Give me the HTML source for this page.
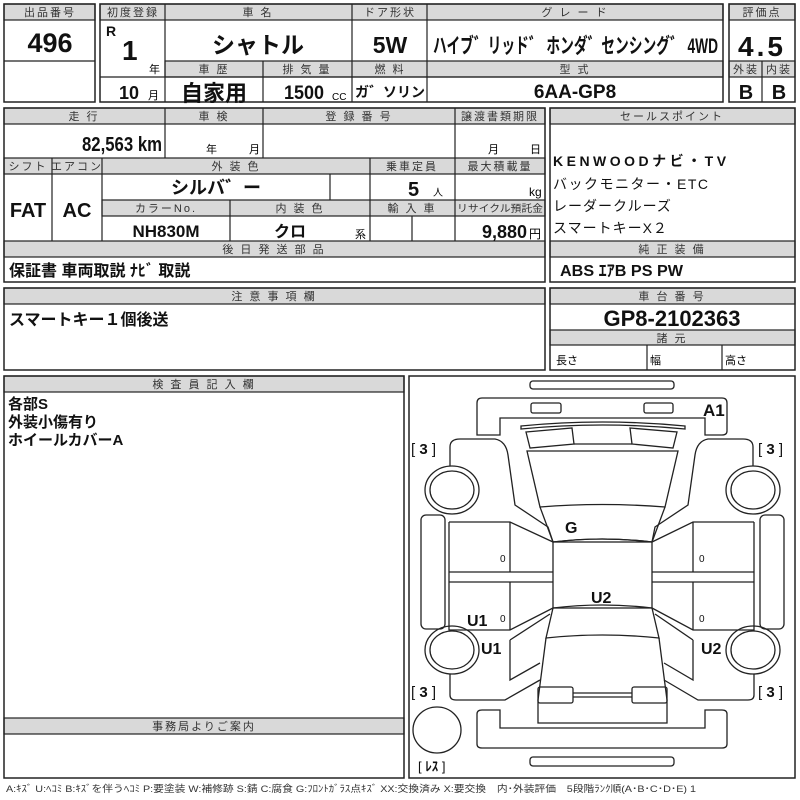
<!DOCTYPE html>
<html><head><meta charset="utf-8"><style>
html,body{margin:0;padding:0;background:#fff;}
svg{display:block;font-family:"Liberation Sans","Noto Sans CJK JP",sans-serif;}
.h{fill:#d9d9d9;stroke:#222;stroke-width:1.2}
.b{fill:none;stroke:#222;stroke-width:1.5}
.l{stroke:#222;stroke-width:1.2}
.ht{font-size:11px;fill:#333;text-anchor:middle;letter-spacing:2px}
.v{font-weight:bold;fill:#111}
.c path,.c rect,.c ellipse,.c line,.c polyline,.c polygon{fill:none;stroke:#222;stroke-width:1.3}
</style></head><body>
<svg width="800" height="800" viewBox="0 0 800 800">
<rect class="h" x="4" y="4" width="91" height="16"/>
<rect class="b" x="4" y="4" width="91" height="98"/>
<line class="l" x1="4" y1="61" x2="95" y2="61"/>
<text class="ht" x="50" y="16">出品番号</text>
<text class="v" x="50" y="52" font-size="27" text-anchor="middle">496</text>
<rect class="h" x="100" y="4" width="623" height="16"/>
<rect class="h" x="165" y="61" width="558" height="16"/>
<rect class="b" x="100" y="4" width="623" height="98"/>
<line class="l" x1="165" y1="4" x2="165" y2="102"/>
<line class="l" x1="352" y1="4" x2="352" y2="102"/>
<line class="l" x1="427" y1="4" x2="427" y2="102"/>
<line class="l" x1="263" y1="61" x2="263" y2="102"/>
<line class="l" x1="100" y1="77" x2="723" y2="77"/>
<text class="ht" x="133" y="16" letter-spacing="0">初度登録</text>
<text class="ht" x="258" y="16">車 名</text>
<text class="ht" x="390" y="16">ドア形状</text>
<text class="ht" x="575" y="16">グ レ ー ド</text>
<text class="ht" x="214" y="73">車 歴</text>
<text class="ht" x="307" y="73">排 気 量</text>
<text class="ht" x="390" y="73">燃 料</text>
<text class="ht" x="575" y="73">型 式</text>
<text class="v" x="106" y="36" font-size="14">R</text>
<text class="v" x="122" y="60" font-size="28">1</text>
<text x="149" y="73" font-size="11">年</text>
<text class="v" x="119" y="99" font-size="18">10</text>
<text x="148" y="99" font-size="11">月</text>
<text class="v" x="258" y="53" font-size="23" text-anchor="middle">シャトル</text>
<text class="v" x="390" y="53" font-size="23" text-anchor="middle">5W</text>
<text class="v" x="433" y="53" font-size="21" textLength="285" lengthAdjust="spacingAndGlyphs">ハイブ゛リッド゛ ホンダ゛センシング゛ 4WD</text>
<text class="v" x="214" y="101" font-size="22" text-anchor="middle">自家用</text>
<text class="v" x="284" y="99" font-size="19" textLength="40" lengthAdjust="spacingAndGlyphs">1500</text>
<text x="332" y="100" font-size="10">CC</text>
<text class="v" x="390" y="97" font-size="14" text-anchor="middle">ガ゛ソリン</text>
<text class="v" x="575" y="98" font-size="19" text-anchor="middle">6AA-GP8</text>
<rect class="h" x="729" y="4" width="66" height="16"/>
<rect class="h" x="729" y="61" width="66" height="16"/>
<rect class="b" x="729" y="4" width="66" height="98"/>
<line class="l" x1="762" y1="61" x2="762" y2="102"/>
<text class="ht" x="762" y="16" letter-spacing="0">評価点</text>
<text class="ht" x="746" y="73" letter-spacing="0">外装</text>
<text class="ht" x="779" y="73" letter-spacing="0">内装</text>
<text class="v" x="762" y="56" font-size="28" text-anchor="middle" letter-spacing="3">4.5</text>
<text class="v" x="746" y="99" font-size="20" text-anchor="middle">B</text>
<text class="v" x="779" y="99" font-size="20" text-anchor="middle">B</text>

<rect class="h" x="4" y="108" width="541" height="16"/>
<rect class="h" x="4" y="158" width="541" height="16"/>
<rect class="h" x="102" y="200" width="443" height="16"/>
<rect class="h" x="4" y="241" width="541" height="16"/>
<rect class="b" x="4" y="108" width="541" height="174"/>
<line class="l" x1="165" y1="108" x2="165" y2="158"/>
<line class="l" x1="263" y1="108" x2="263" y2="158"/>
<line class="l" x1="455" y1="108" x2="455" y2="241"/>
<line class="l" x1="52" y1="158" x2="52" y2="241"/>
<line class="l" x1="102" y1="158" x2="102" y2="241"/>
<line class="l" x1="370" y1="158" x2="370" y2="241"/>
<line class="l" x1="330" y1="174" x2="330" y2="200"/>
<line class="l" x1="230" y1="200" x2="230" y2="241"/>
<line class="l" x1="412" y1="216" x2="412" y2="241"/>
<text class="ht" x="84" y="120">走 行</text>
<text class="ht" x="214" y="120">車 検</text>
<text class="ht" x="359" y="120">登 録 番 号</text>
<text class="ht" x="500" y="120" letter-spacing="0">譲渡書類期限</text>
<text class="ht" x="28" y="170" letter-spacing="0">シフト</text>
<text class="ht" x="77" y="170" letter-spacing="0">エアコン</text>
<text class="ht" x="236" y="170">外 装 色</text>
<text class="ht" x="412" y="170" letter-spacing="0">乗車定員</text>
<text class="ht" x="500" y="170" letter-spacing="0">最大積載量</text>
<text class="ht" x="166" y="212" letter-spacing="4">カラーNo.</text>
<text class="ht" x="300" y="212">内 装 色</text>
<text class="ht" x="412" y="212">輸 入 車</text>
<text x="457" y="212" font-size="10" fill="#333" letter-spacing="0" textLength="86" lengthAdjust="spacingAndGlyphs">リサイクル預託金</text>
<text class="ht" x="274" y="253">後 日 発 送 部 品</text>
<text class="v" x="82" y="151" font-size="20" textLength="80" lengthAdjust="spacingAndGlyphs">82,563 km</text>
<text x="206" y="153" font-size="11">年</text><text x="249" y="153" font-size="11">月</text>
<text x="488" y="153" font-size="11">月</text><text x="530" y="153" font-size="11">日</text>
<text class="v" x="216" y="194" font-size="18" text-anchor="middle">シルバ゛ー</text>
<text class="v" x="408" y="196" font-size="20">5</text><text x="433" y="196" font-size="10">人</text>
<text x="529" y="196" font-size="12">kg</text>
<text class="v" x="28" y="217" font-size="20" text-anchor="middle">FAT</text>
<text class="v" x="77" y="217" font-size="20" text-anchor="middle">AC</text>
<text class="v" x="166" y="237" font-size="17" text-anchor="middle">NH830M</text>
<text class="v" x="290" y="237" font-size="16" text-anchor="middle">クロ</text>
<text x="355" y="238" font-size="11">系</text>
<text class="v" x="482" y="238" font-size="18">9,880</text><text x="529" y="238" font-size="12">円</text>
<text class="v" x="9" y="276" font-size="16">保証書 車両取説 ﾅﾋﾞ 取説</text>

<rect class="h" x="550" y="108" width="245" height="16"/>
<rect class="h" x="550" y="241" width="245" height="16"/>
<rect class="b" x="550" y="108" width="245" height="174"/>
<text class="ht" x="672" y="120" letter-spacing="6">セールスポイント</text>
<text class="ht" x="672" y="253">純 正 装 備</text>
<text class="v" x="553" y="166" font-size="14" letter-spacing="3.5" font-weight="normal">KENWOODナビ・TV</text>
<text x="553" y="189" font-size="14" letter-spacing="1.5" fill="#111">バックモニター・ETC</text>
<text x="553" y="211" font-size="14" letter-spacing="1" fill="#111">レーダークルーズ</text>
<text x="553" y="233" font-size="14" letter-spacing="1" fill="#111">スマートキーX２</text>
<text class="v" x="560" y="276" font-size="16" textLength="123" lengthAdjust="spacingAndGlyphs">ABS ｴｱB PS PW</text>

<rect class="h" x="4" y="288" width="541" height="16"/>
<rect class="b" x="4" y="288" width="541" height="82"/>
<text class="ht" x="274" y="300">注 意 事 項 欄</text>
<text class="v" x="9" y="325" font-size="16">スマートキー１個後送</text>
<rect class="h" x="550" y="288" width="245" height="16"/>
<rect class="h" x="550" y="330" width="245" height="15"/>
<rect class="b" x="550" y="288" width="245" height="82"/>
<line class="l" x1="647" y1="345" x2="647" y2="370"/>
<line class="l" x1="722" y1="345" x2="722" y2="370"/>
<text class="ht" x="672" y="300">車 台 番 号</text>
<text class="ht" x="672" y="342">諸 元</text>
<text class="v" x="672" y="326" font-size="22" text-anchor="middle">GP8-2102363</text>
<text x="556" y="364" font-size="11">長さ</text>
<text x="650" y="364" font-size="11">幅</text>
<text x="725" y="364" font-size="11">高さ</text>

<rect class="h" x="4" y="376" width="400" height="16"/>
<rect class="h" x="4" y="718" width="400" height="16"/>
<rect class="b" x="4" y="376" width="400" height="402"/>
<text class="ht" x="204" y="388">検 査 員 記 入 欄</text>
<text class="ht" x="204" y="730" letter-spacing="5">事務局よりご案内</text>
<text class="v" x="8" y="409" font-size="15">各部S</text>
<text class="v" x="8" y="427" font-size="15">外装小傷有り</text>
<text class="v" x="8" y="445" font-size="15">ホイールカバーA</text>

<rect class="b" x="409" y="376" width="386" height="402"/>
<g class="c">
<rect x="530" y="381" width="144" height="8" rx="3"/>
<path d="M477,435 L477,403 Q477,398 482,398 L722,398 Q727,398 727,403 L727,431 Q727,435 722,435 L705,435 L705,418 L500,418 L500,435 Z"/>
<rect x="531" y="403" width="30" height="10" rx="2"/>
<rect x="644" y="403" width="29" height="10" rx="2"/>
<path d="M521,426 Q602,418 685,426 L685,429 Q602,421 521,429 Z"/>
<polygon points="526,432 572,428 574,444 530,448"/>
<polygon points="630,428 677,432 673,448 632,444"/>
<line x1="574" y1="444" x2="632" y2="444"/>
<path d="M527,451 L678,451 L665,507 Q602,502 540,507 Z"/>
<path d="M540,507 L553,542 Q602,536 652,542 L665,507"/>
<rect x="553" y="542" width="99" height="66"/>
<path d="M553,542 Q602,536 652,542"/>
<path d="M553,608 Q602,602 652,608"/>
<path d="M553,608 L546,638 Q602,632 659,638 L652,608"/>
<path d="M546,638 L538,700 L538,723 L667,723 L667,700 L659,638"/>
<rect x="538" y="687" width="35" height="16" rx="2"/>
<rect x="632" y="687" width="35" height="16" rx="2"/>
<line x1="573" y1="693" x2="632" y2="693"/>
<line x1="573" y1="697" x2="632" y2="697"/>
<path d="M477,714 Q477,710 482,710 L500,710 L500,728 L705,728 L705,710 L722,710 Q727,710 727,714 L727,744 Q727,748 722,748 L482,748 Q477,748 477,744 Z"/>
<rect x="530" y="757" width="144" height="9" rx="3"/>
<path d="M450,466 L450,447 Q450,439 460,439 L495,439 Q506,441 508,455 L515,505 L548,527 L553,542"/>
<path d="M753,466 L753,447 Q753,439 743,439 L708,439 Q697,441 695,455 L688,505 L655,527 L652,542"/>
<ellipse cx="452" cy="490" rx="27" ry="24"/><ellipse cx="452" cy="490" rx="22" ry="19"/>
<ellipse cx="753" cy="490" rx="27" ry="24"/><ellipse cx="753" cy="490" rx="22" ry="19"/>
<ellipse cx="452" cy="650" rx="27" ry="24"/><ellipse cx="452" cy="650" rx="22" ry="19"/>
<ellipse cx="753" cy="650" rx="27" ry="24"/><ellipse cx="753" cy="650" rx="22" ry="19"/>
<ellipse cx="437" cy="730" rx="24" ry="23"/>
<rect x="421" y="515" width="24" height="114" rx="5"/>
<rect x="760" y="515" width="24" height="114" rx="5"/>
<path d="M449,522 L510,522 L553,542 M449,522 L449,630 L510,630 L553,608"/>
<line x1="510" y1="522" x2="510" y2="572"/><line x1="510" y1="582" x2="510" y2="630"/>
<line x1="449" y1="572" x2="553" y2="572"/><line x1="449" y1="582" x2="553" y2="582"/>
<path d="M754,522 L693,522 L652,542 M754,522 L754,630 L693,630 L652,608"/>
<line x1="693" y1="522" x2="693" y2="572"/><line x1="693" y1="582" x2="693" y2="630"/>
<line x1="754" y1="572" x2="652" y2="572"/><line x1="754" y1="582" x2="652" y2="582"/>
<path d="M510,640 L550,614 M510,640 L510,680 L540,663 M450,674 L450,695 Q450,700 456,700 L505,700 L540,680"/>
<path d="M693,640 L655,614 M693,640 L693,680 L664,663 M754,674 L754,695 Q754,700 748,700 L698,700 L664,680"/>
</g>
<g font-weight="bold" fill="#111">
<text x="703" y="416" font-size="17">A1</text>
<text x="565" y="533" font-size="16">G</text>
<text x="591" y="603" font-size="16">U2</text>
<text x="467" y="626" font-size="16">U1</text>
<text x="481" y="654" font-size="16">U1</text>
<text x="701" y="654" font-size="16">U2</text>
</g>
<g font-size="15" fill="#111">
<text x="411" y="454">[ <tspan font-weight="bold">3</tspan> ]</text>
<text x="758" y="454">[ <tspan font-weight="bold">3</tspan> ]</text>
<text x="411" y="697">[ <tspan font-weight="bold">3</tspan> ]</text>
<text x="758" y="697">[ <tspan font-weight="bold">3</tspan> ]</text>
<text x="418" y="771" font-size="13">[ <tspan font-weight="bold">ﾚｽ</tspan> ]</text>
<text x="500" y="562" font-size="10">0</text><text x="500" y="622" font-size="10">0</text>
<text x="699" y="562" font-size="10">0</text><text x="699" y="622" font-size="10">0</text>
</g>
<text x="6" y="792" font-size="9.5" fill="#333" textLength="690" lengthAdjust="spacingAndGlyphs">A:ｷｽﾞ U:ﾍｺﾐ B:ｷｽﾞを伴うﾍｺﾐ P:要塗装 W:補修跡 S:錆 C:腐食 G:ﾌﾛﾝﾄｶﾞﾗｽ点ｷｽﾞ XX:交換済み X:要交換　内･外装評価　5段階ﾗﾝｸ順(A･B･C･D･E) 1</text>
</svg>
</body></html>
